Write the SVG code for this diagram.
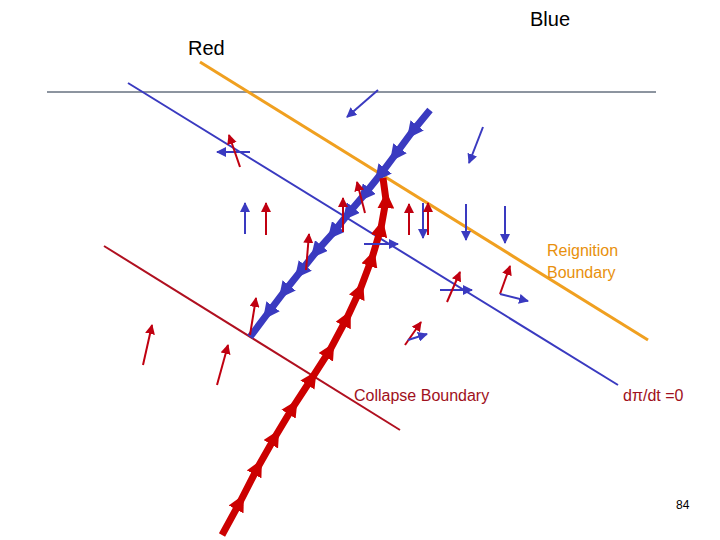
<svg xmlns="http://www.w3.org/2000/svg" width="720" height="540" viewBox="0 0 720 540">
<defs>
<marker id="ab" viewBox="0 0 10 10" refX="9" refY="5" markerWidth="5" markerHeight="5" orient="auto"><path d="M0,0L10,5L0,10z" fill="#3a3ac0"/></marker>
<marker id="ar" viewBox="0 0 10 10" refX="9" refY="5" markerWidth="5" markerHeight="5" orient="auto"><path d="M0,0L10,5L0,10z" fill="#c00010"/></marker>
<marker id="tb" viewBox="0 0 10 10" refX="5" refY="5" markerWidth="2.4" markerHeight="2.4" orient="auto"><path d="M0,0L10,5L0,10z" fill="#3a3ac0"/></marker>
<marker id="tr" viewBox="0 0 10 10" refX="5" refY="5" markerWidth="2.4" markerHeight="2.4" orient="auto"><path d="M0,0L10,5L0,10z" fill="#cc0000"/></marker>
<style>
.b{stroke:#3a3ac0;stroke-width:2;fill:none;marker-end:url(#ab)}
.r{stroke:#c00010;stroke-width:2;fill:none;marker-end:url(#ar)}
text{font-family:"Liberation Sans",Arial,sans-serif}
</style>
</defs>
<rect width="720" height="540" fill="#fff"/>
<g id="boundaries">
<line x1="47" y1="92" x2="656" y2="92" stroke="#1a2a40" stroke-width="1"/>
<line x1="200" y1="62" x2="648" y2="340" stroke="#f0a020" stroke-width="3"/>
<line x1="128" y1="83" x2="618" y2="385" stroke="#3a3ac0" stroke-width="2"/>
<line x1="104" y1="246" x2="400" y2="430" stroke="#b01020" stroke-width="2"/>
</g>
<g id="trajectories">
<path d="M430,110 L412,132 L395,155 L380,175 L364,195 L348,214 L333,233 L316,252 L300,272 L284,292 L268,313 L250,337" stroke="#3a3ac0" stroke-width="7" fill="none" marker-mid="url(#tb)"/>
<path d="M222,535 L240,502 L258,467 L275,437 L293,407 L312,378 L330,350 L347,318 L360,290 L372,258 L381,228 L386,200 L383,178" stroke="#cc0000" stroke-width="7" fill="none" marker-mid="url(#tr)"/>
</g>
<g id="vectors">
<line class="b" x1="378" y1="90" x2="347" y2="117"/>
<line class="b" x1="483" y1="127" x2="469" y2="163"/>
<line class="b" x1="250" y1="152" x2="217" y2="152"/>
<line class="r" x1="240" y1="167" x2="229" y2="135"/>
<line class="b" x1="245" y1="234" x2="245" y2="203"/>
<line class="r" x1="266" y1="235" x2="266" y2="203"/>
<line class="r" x1="343" y1="232" x2="343" y2="198"/>
<line class="r" x1="365" y1="213" x2="357" y2="182"/>
<line class="r" x1="306" y1="270" x2="309" y2="234"/>
<line class="r" x1="409" y1="235" x2="409" y2="204"/>
<line class="b" x1="423" y1="203" x2="423" y2="238"/>
<line class="r" x1="428" y1="235" x2="428" y2="203"/>
<line class="b" x1="466" y1="204" x2="466" y2="240"/>
<line class="b" x1="505" y1="206" x2="505" y2="243"/>
<line class="b" x1="364" y1="244" x2="398" y2="244"/>
<line class="b" x1="440" y1="290" x2="472" y2="290"/>
<line class="r" x1="447" y1="302" x2="460" y2="272"/>
<line class="r" x1="500" y1="294" x2="510" y2="266"/>
<line class="b" x1="500" y1="294" x2="528" y2="301"/>
<line class="r" x1="250" y1="335" x2="256" y2="298"/>
<line class="r" x1="143" y1="365" x2="152" y2="325"/>
<line class="r" x1="217" y1="385" x2="228" y2="345"/>
<line class="r" x1="405" y1="345" x2="421" y2="322"/>
<line class="b" x1="408" y1="340" x2="427" y2="334"/>
</g>
<g id="labels">
<text x="530" y="26" font-size="20">Blue</text>
<text x="188" y="55" font-size="20">Red</text>
<text x="547" y="256" font-size="16" fill="#e8900c">Reignition</text>
<text x="547" y="278" font-size="16" fill="#e8900c">Boundary</text>
<text x="354" y="401" font-size="16" fill="#a01020">Collapse Boundary</text>
<text x="623" y="401" font-size="16" fill="#a01020">dπ/dt =0</text>
<text x="676" y="509" font-size="12">84</text>
</g>
</svg>
